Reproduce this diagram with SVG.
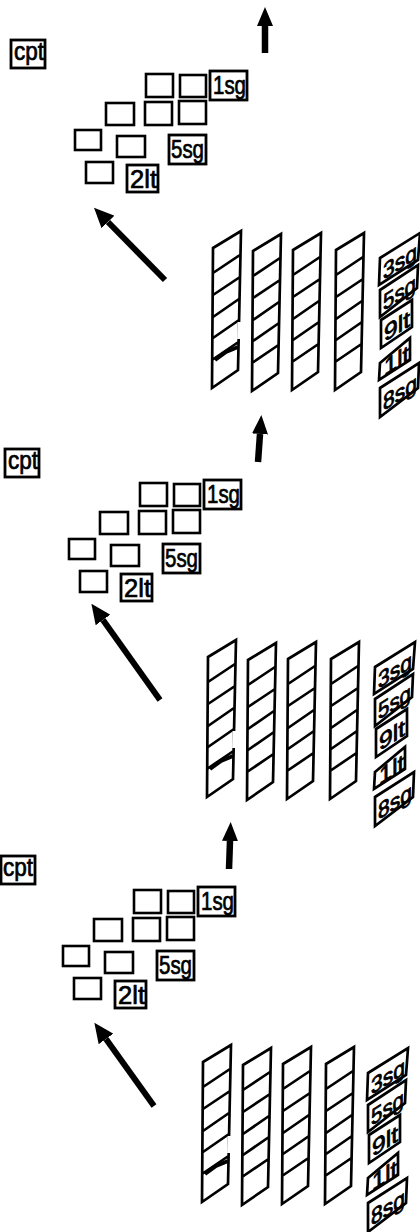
<svg xmlns="http://www.w3.org/2000/svg" xmlns:xlink="http://www.w3.org/1999/xlink" width="420" height="1232" viewBox="0 0 420 1232">
<style>
.b{fill:#fff;stroke:#000;stroke-width:2.6}
.lb{stroke-width:2.8}
.t{font-family:"Liberation Sans",Arial,sans-serif;font-size:25px;fill:#000;stroke:#000;stroke-width:.7}
.s{font-family:"Liberation Sans",Arial,sans-serif;font-size:23px;fill:#000;stroke:#000;stroke-width:.8}
.c{fill:none;stroke:#000;stroke-width:2.7}
.sh{fill:none;stroke:#000;stroke-linecap:butt}
.up{stroke-width:6.5;marker-end:url(#headUp)}
.dg{stroke-width:6;marker-end:url(#headDg)}
</style>
<defs>
<marker id="headUp" markerUnits="userSpaceOnUse" viewBox="0 -8 19 16" markerWidth="19" markerHeight="16" refX="0" refY="0" orient="auto"><path d="M0,-8L19,0L0,8Z" fill="#000"/></marker>
<marker id="headDg" markerUnits="userSpaceOnUse" viewBox="0 -9 20 18" markerWidth="20" markerHeight="18" refX="0" refY="0" orient="auto"><path d="M0,-9L20,0L0,9Z" fill="#000"/></marker>
<path id="col" class="c" d="M0,0L28,-17L25,122L-1,140ZM0,25L27,7M0,47L27,29M0,69L26,51M0,90L26,72M-1,112L25.5,94"/>
<path id="stub" fill="none" stroke="#000" stroke-width="4" d="M2,112L13,104L25,99"/>
<path id="gap" fill="none" stroke="#fff" stroke-width="3.8" d="M26.5,74L26,91"/>
<path id="s1" class="c" d="M380,258L420,233L418,260L379,285Z"/>
<path id="s2" class="c" d="M380,290L418,265L417,288L380,317Z"/>
<path id="s3" class="c" d="M381,320L412,300L412,327L381,348Z"/>
<path id="s4" class="c" d="M380,363L410,338L410,360L379,380Z"/>
<path id="s5" class="c" d="M380,388L419,363L418,388L380,417Z"/>
</defs>
<rect width="420" height="1232" fill="#fff"/>
<g id="connectors">
<line class="sh up" x1="265" y1="53" x2="265" y2="26"/>
<line class="sh dg" x1="165" y1="280" x2="108" y2="222"/>
<line class="sh up" x1="258" y1="462" x2="260" y2="434"/>
<line class="sh dg" x1="160" y1="700" x2="103" y2="620"/>
<line class="sh up" x1="229" y1="869" x2="230" y2="841"/>
<line class="sh dg" x1="154" y1="1106" x2="106" y2="1039"/>
</g>
<g id="panel1">
<g id="p1-cpt"><rect class="b lb" x="11" y="40" width="34" height="28"/><text class="t" x="14" y="60" textLength="30" lengthAdjust="spacingAndGlyphs">cpt</text></g>
<g id="p1-b1"><rect class="b" x="146" y="74" width="27" height="23"/></g>
<g id="p1-b2"><rect class="b" x="180" y="75" width="26" height="22"/></g>
<g id="p1-1sg"><rect class="b lb" x="210" y="71" width="37" height="29"/><text class="t" x="213" y="94" textLength="33" lengthAdjust="spacingAndGlyphs">1sg</text></g>
<g id="p1-b3"><rect class="b" x="106" y="103" width="28" height="22"/></g>
<g id="p1-b4"><rect class="b" x="145" y="102" width="27" height="23"/></g>
<g id="p1-b5"><rect class="b" x="179" y="101" width="27" height="23"/></g>
<g id="p1-b6"><rect class="b" x="75" y="130" width="26" height="20"/></g>
<g id="p1-b7"><rect class="b" x="117" y="136" width="28" height="21"/></g>
<g id="p1-5sg"><rect class="b lb" x="169" y="135" width="37" height="29"/><text class="t" x="171" y="158" textLength="33" lengthAdjust="spacingAndGlyphs">5sg</text></g>
<g id="p1-b8"><rect class="b" x="86" y="162" width="27" height="21"/></g>
<g id="p1-2lt"><rect class="b lb" x="127" y="165" width="31" height="27"/><text class="t" x="130" y="188" textLength="27" lengthAdjust="spacingAndGlyphs">2lt</text></g>
<g id="p1-c1" transform="translate(213,248)"><use href="#col"/><use href="#gap"/><use href="#stub"/></g>
<g id="p1-c2" transform="translate(253,251)"><use href="#col"/></g>
<g id="p1-c3" transform="translate(293,250)"><use href="#col"/></g>
<g id="p1-c4" transform="translate(336,250)"><use href="#col"/></g>
<g id="p1-l1"><use href="#s1"/><text class="s" transform="translate(383,280) skewY(-32)" textLength="34" lengthAdjust="spacingAndGlyphs">3sg</text></g>
<g id="p1-l2"><use href="#s2"/><text class="s" transform="translate(383,311) skewY(-32)" textLength="33" lengthAdjust="spacingAndGlyphs">5sg</text></g>
<g id="p1-l3"><use href="#s3"/><text class="s" transform="translate(384,342) skewY(-32)" textLength="26" lengthAdjust="spacingAndGlyphs">9lt</text></g>
<g id="p1-l4"><use href="#s4"/><text class="s" transform="translate(384,376) skewY(-32)" textLength="25" lengthAdjust="spacingAndGlyphs">1lt</text></g>
<g id="p1-l5"><use href="#s5"/><text class="s" transform="translate(383,411) skewY(-32)" textLength="34" lengthAdjust="spacingAndGlyphs">8sg</text></g>
</g>
<g id="panel2">
<g transform="translate(-6,409)">
<g id="p2-cpt"><rect class="b lb" x="11" y="40" width="34" height="28"/><text class="t" x="14" y="60" textLength="30" lengthAdjust="spacingAndGlyphs">cpt</text></g>
<g id="p2-b1"><rect class="b" x="146" y="74" width="27" height="23"/></g>
<g id="p2-b2"><rect class="b" x="180" y="75" width="26" height="22"/></g>
<g id="p2-1sg"><rect class="b lb" x="210" y="71" width="37" height="29"/><text class="t" x="213" y="94" textLength="33" lengthAdjust="spacingAndGlyphs">1sg</text></g>
<g id="p2-b3"><rect class="b" x="106" y="103" width="28" height="22"/></g>
<g id="p2-b4"><rect class="b" x="145" y="102" width="27" height="23"/></g>
<g id="p2-b5"><rect class="b" x="179" y="101" width="27" height="23"/></g>
<g id="p2-b6"><rect class="b" x="75" y="130" width="26" height="20"/></g>
<g id="p2-b7"><rect class="b" x="117" y="136" width="28" height="21"/></g>
<g id="p2-5sg"><rect class="b lb" x="169" y="135" width="37" height="29"/><text class="t" x="171" y="158" textLength="33" lengthAdjust="spacingAndGlyphs">5sg</text></g>
<g id="p2-b8"><rect class="b" x="86" y="162" width="27" height="21"/></g>
<g id="p2-2lt"><rect class="b lb" x="127" y="165" width="31" height="27"/><text class="t" x="130" y="188" textLength="27" lengthAdjust="spacingAndGlyphs">2lt</text></g>
</g>
<g transform="translate(-5,409)">
<g id="p2-c1" transform="translate(213,248)"><use href="#col"/><use href="#gap"/><use href="#stub"/></g>
<g id="p2-c2" transform="translate(253,251)"><use href="#col"/></g>
<g id="p2-c3" transform="translate(293,250)"><use href="#col"/></g>
<g id="p2-c4" transform="translate(336,250)"><use href="#col"/></g>
<g id="p2-l1"><use href="#s1"/><text class="s" transform="translate(383,280) skewY(-32)" textLength="34" lengthAdjust="spacingAndGlyphs">3sg</text></g>
<g id="p2-l2"><use href="#s2"/><text class="s" transform="translate(383,311) skewY(-32)" textLength="33" lengthAdjust="spacingAndGlyphs">5sg</text></g>
<g id="p2-l3"><use href="#s3"/><text class="s" transform="translate(384,342) skewY(-32)" textLength="26" lengthAdjust="spacingAndGlyphs">9lt</text></g>
<g id="p2-l4"><use href="#s4"/><text class="s" transform="translate(384,376) skewY(-32)" textLength="25" lengthAdjust="spacingAndGlyphs">1lt</text></g>
<g id="p2-l5"><use href="#s5"/><text class="s" transform="translate(383,411) skewY(-32)" textLength="34" lengthAdjust="spacingAndGlyphs">8sg</text></g>
</g>
</g>
<g id="panel3">
<g transform="translate(-12,816)">
<g id="p3-cpt"><rect class="b lb" x="13" y="40" width="34" height="28"/><text class="t" x="15" y="60" textLength="30" lengthAdjust="spacingAndGlyphs">cpt</text></g>
<g id="p3-b1"><rect class="b" x="146" y="74" width="27" height="23"/></g>
<g id="p3-b2"><rect class="b" x="180" y="75" width="26" height="22"/></g>
<g id="p3-1sg"><rect class="b lb" x="210" y="71" width="37" height="29"/><text class="t" x="213" y="94" textLength="33" lengthAdjust="spacingAndGlyphs">1sg</text></g>
<g id="p3-b3"><rect class="b" x="106" y="103" width="28" height="22"/></g>
<g id="p3-b4"><rect class="b" x="145" y="102" width="27" height="23"/></g>
<g id="p3-b5"><rect class="b" x="179" y="101" width="27" height="23"/></g>
<g id="p3-b6"><rect class="b" x="75" y="130" width="26" height="20"/></g>
<g id="p3-b7"><rect class="b" x="117" y="136" width="28" height="21"/></g>
<g id="p3-5sg"><rect class="b lb" x="169" y="135" width="37" height="29"/><text class="t" x="171" y="158" textLength="33" lengthAdjust="spacingAndGlyphs">5sg</text></g>
<g id="p3-b8"><rect class="b" x="86" y="162" width="27" height="21"/></g>
<g id="p3-2lt"><rect class="b lb" x="127" y="165" width="31" height="27"/><text class="t" x="130" y="188" textLength="27" lengthAdjust="spacingAndGlyphs">2lt</text></g>
</g>
<g transform="translate(-10,814)">
<g id="p3-c1" transform="translate(213,248)"><use href="#col"/><use href="#gap"/><use href="#stub"/></g>
<g id="p3-c2" transform="translate(253,251)"><use href="#col"/></g>
<g id="p3-c3" transform="translate(293,250)"><use href="#col"/></g>
<g id="p3-c4" transform="translate(336,250)"><use href="#col"/></g>
</g>
<g transform="translate(-12,815)">
<g id="p3-l1"><use href="#s1"/><text class="s" transform="translate(383,280) skewY(-32)" textLength="34" lengthAdjust="spacingAndGlyphs">3sg</text></g>
<g id="p3-l2"><use href="#s2"/><text class="s" transform="translate(383,311) skewY(-32)" textLength="33" lengthAdjust="spacingAndGlyphs">5sg</text></g>
<g id="p3-l3"><use href="#s3"/><text class="s" transform="translate(384,342) skewY(-32)" textLength="26" lengthAdjust="spacingAndGlyphs">9lt</text></g>
<g id="p3-l4"><use href="#s4"/><text class="s" transform="translate(384,376) skewY(-32)" textLength="25" lengthAdjust="spacingAndGlyphs">1lt</text></g>
<g id="p3-l5"><use href="#s5"/><text class="s" transform="translate(383,411) skewY(-32)" textLength="34" lengthAdjust="spacingAndGlyphs">8sg</text></g>
</g>
</g>
</svg>
